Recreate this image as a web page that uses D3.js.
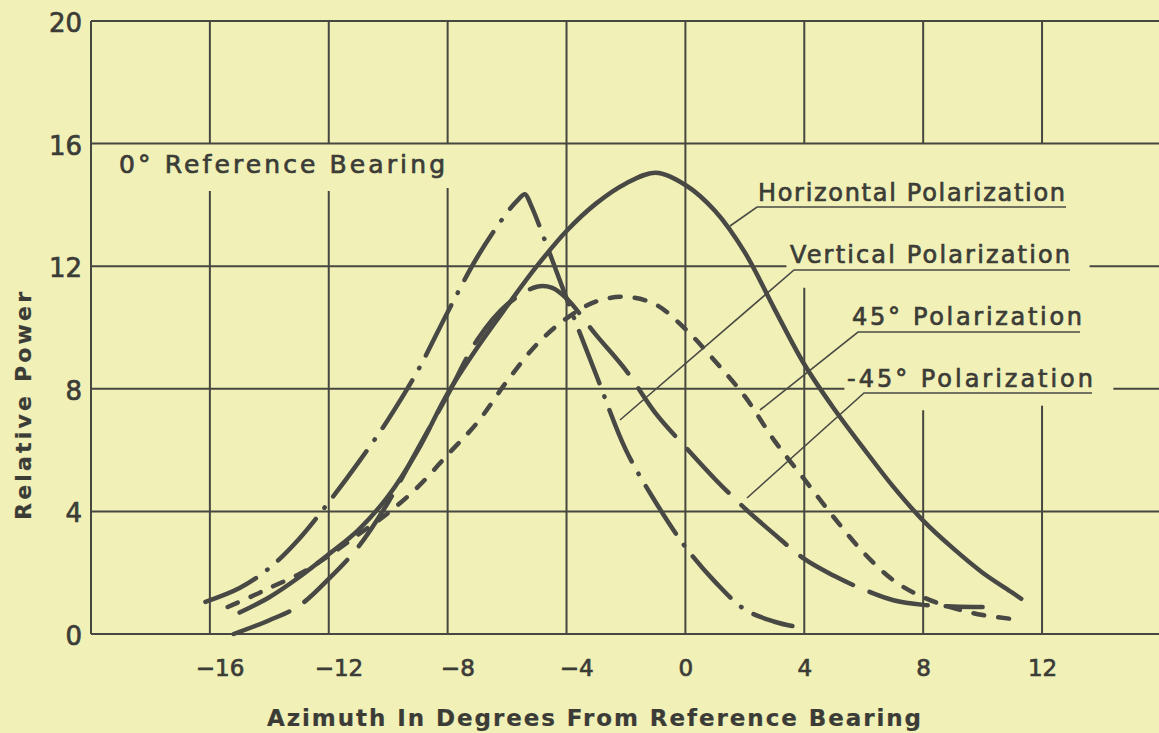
<html>
<head>
<meta charset="utf-8">
<script src="https://cdn.jsdelivr.net/npm/d3@7"></script>
<style>
body { margin: 0; background: #f0f0b7; }
svg text { font-family: "DejaVu Sans", sans-serif; fill: #3c3c37; stroke: #3c3c37; stroke-width: 0.7px; }
.grid line { stroke: #474741; stroke-width: 2px; }
.curve { fill: none; stroke: #484844; stroke-width: 4.5px; stroke-linecap: round; }
.leader { fill: none; stroke: #4a4a45; stroke-width: 1.6px; }
</style>
</head>
<body>
<script>

// tick values
var xTicks = [-16, -12, -8, -4, 0, 4, 8, 12];
var yTicks = [0, 4, 8, 12, 16, 20];

// Horizontal Polarization (solid)
var horizX = [-15.0, -14, -13, -12, -11, -10, -9, -8, -7, -6, -5, -4, -3, -2, -1, 0, 1, 2, 3, 4, 5, 6, 7, 8, 9, 10, 11, 11.3];
var horizY = [0.7, 1.2, 1.85, 2.6, 3.4, 4.5, 6.0, 7.85, 9.35, 10.7, 12.0, 13.15, 14.05, 14.7, 15.05, 14.65, 13.8, 12.45, 10.6, 8.8, 7.35, 6.05, 4.8, 3.7, 2.8, 2.0, 1.35, 1.15];

// Vertical Polarization (dash-dot)
var vertX = [-16.15, -15, -14, -13, -12, -11, -10, -9, -8, -7, -6, -5.6, -5.4, -5.2, -4.5, -4, -3, -2, -1, 0, 1, 2, 3, 3.6];
var vertY = [1.05, 1.5, 2.15, 3.1, 4.3, 5.6, 7.0, 8.6, 10.5, 12.3, 13.75, 14.2, 14.35, 14.0, 12.25, 10.95, 8.45, 6.0, 4.3, 2.84, 1.7, 0.8, 0.4, 0.26];

// 45° Polarization (short dash)
var pos45X = [-15.4, -14.5, -14, -13, -12, -11, -10, -9, -8, -7, -6, -5, -4, -3, -2, -1, 0, 1, 2, 3, 4, 5, 6, 7, 8, 9, 10, 11];
var pos45Y = [0.88, 1.27, 1.5, 1.95, 2.55, 3.25, 3.95, 4.8, 5.85, 6.9, 8.25, 9.45, 10.3, 10.85, 11.0, 10.75, 9.95, 8.9, 7.75, 6.3, 5.05, 3.8, 2.65, 1.75, 1.2, 0.85, 0.62, 0.49];

// -45° Polarization (long dash)
var neg45X = [-15.2, -14, -13, -12, -11, -10, -9, -8, -7, -6, -5, -4.5, -4, -3, -2, -1, 0, 1, 2, 3, 4, 5, 6, 7, 8, 9, 10];
var neg45Y = [0.0, 0.45, 0.92, 1.8, 2.85, 4.3, 6.05, 7.8, 9.6, 10.75, 11.33, 11.3, 10.95, 9.75, 8.6, 7.2, 6.1, 5.05, 4.1, 3.25, 2.45, 1.9, 1.45, 1.1, 0.95, 0.9, 0.88];

var width = 1159, height = 733;

var x = d3.scaleLinear().domain([-20, 16]).range([91, 91 + 36 * 29.72]);
var y = d3.scaleLinear().domain([0, 20]).range([634, 21]);

var svg = d3.select("body").append("svg")
    .attr("width", width)
    .attr("height", height);

// grid lines, with gaps where the labels sit
var vGrid = [
    {v: -20, segs: [[0, 20]]},
    {v: -16, segs: [[16, 20], [0, 14.45]]},
    {v: -12, segs: [[16, 20], [0, 14.45]]},
    {v: -8,  segs: [[16, 20], [0, 14.55]]},
    {v: -4,  segs: [[0, 20]]},
    {v: 0,   segs: [[0, 20]]},
    {v: 4,   segs: [[16, 20], [0, 11.3]]},
    {v: 8,   segs: [[16, 20], [0, 7.3]]},
    {v: 12,  segs: [[16, 20], [0, 7.45]]}
];
var hGrid = [
    {v: 0,  segs: [[-20, 16]]},
    {v: 4,  segs: [[-20, 16]]},
    {v: 8,  segs: [[-20, 5.35], [14.4, 16]]},
    {v: 12, segs: [[-20, 3.4], [13.6, 16]]},
    {v: 16, segs: [[-20, 16]]},
    {v: 20, segs: [[-20, 16]]}
];

var grid = svg.append("g").attr("class", "grid");
vGrid.forEach(function(g) {
    g.segs.forEach(function(s) {
        grid.append("line")
            .attr("x1", x(g.v)).attr("x2", x(g.v))
            .attr("y1", y(s[0])).attr("y2", y(s[1]));
    });
});
hGrid.forEach(function(g) {
    g.segs.forEach(function(s) {
        grid.append("line")
            .attr("x1", x(s[0])).attr("x2", x(s[1]))
            .attr("y1", y(g.v)).attr("y2", y(g.v));
    });
});

// axes (labels only)
var xAxis = svg.append("g")
    .attr("transform", "translate(0," + y(0) + ")")
    .call(d3.axisBottom(x).tickValues(xTicks).tickSize(0).tickPadding(26));
xAxis.select(".domain").remove();
xAxis.selectAll("text")
    .style("font-size", "23px")
    .attr("dx", function(d) { return d < 0 ? "0.42em" : 0; });

var yAxis = svg.append("g")
    .attr("transform", "translate(" + x(-20) + ",0)")
    .call(d3.axisLeft(y).tickValues(yTicks).tickSize(0).tickPadding(9));
yAxis.select(".domain").remove();
yAxis.selectAll("text")
    .style("font-size", "26px")
    .attr("dy", "0.4em");

// curves
var line = d3.line()
    .x(function(d) { return x(d[0]); })
    .y(function(d) { return y(d[1]); })
    .curve(d3.curveCatmullRom.alpha(0.5));

function series(xs, ys) {
    return xs.map(function(v, i) { return [v, ys[i]]; });
}

var curves = [
    {pts: series(horizX, horizY), dash: null},
    {pts: series(vertX, vertY), dash: "56 14 0.5 14"},
    {pts: series(pos45X, pos45Y), dash: "11 14"},
    {pts: series(neg45X, neg45Y), dash: "60 18"}
];

curves.forEach(function(c) {
    svg.append("path")
        .attr("class", "curve")
        .attr("d", line(c.pts))
        .attr("stroke-dasharray", c.dash);
});

// labels with underline and leader line
var labels = [
    {text: "Horizontal Polarization", tx: 758, ty: 201, len: 307, ux1: 757, ux2: 1066, uy: 207, lx: 730, ly: 226},
    {text: "Vertical Polarization", tx: 790, ty: 263, len: 280, ux1: 794, ux2: 1070, uy: 270, lx: 620, ly: 420},
    {text: "45° Polarization", tx: 852, ty: 325, len: 230, ux1: 858, ux2: 1080, uy: 332, lx: 760, ly: 410},
    {text: "-45° Polarization", tx: 847, ty: 387, len: 246, ux1: 864, ux2: 1092, uy: 393, lx: 747, ly: 498}
];

labels.forEach(function(l) {
    svg.append("text")
        .attr("x", l.tx).attr("y", l.ty)
        .attr("textLength", l.len)
        .attr("lengthAdjust", "spacing")
        .style("font-size", "24px")
        .text(l.text);
    svg.append("path")
        .attr("class", "leader")
        .attr("d", "M" + l.lx + "," + l.ly + "L" + l.ux1 + "," + l.uy + "L" + l.ux2 + "," + l.uy);
});

svg.append("text")
    .attr("x", 119).attr("y", 173)
    .attr("textLength", 326)
    .attr("lengthAdjust", "spacing")
    .style("font-size", "25px")
    .text("0° Reference Bearing");

// axis titles
svg.append("text")
    .attr("x", 267).attr("y", 726)
    .attr("textLength", 654)
    .attr("lengthAdjust", "spacing")
    .style("font-size", "23px")
    .style("font-weight", "bold")
    .style("stroke-width", "0.2")
    .text("Azimuth In Degrees From Reference Bearing");

svg.append("text")
    .attr("transform", "translate(31,406) rotate(-90)")
    .attr("text-anchor", "middle")
    .attr("textLength", 228)
    .attr("lengthAdjust", "spacing")
    .style("font-size", "22px")
    .style("font-weight", "bold")
    .style("stroke-width", "0.2")
    .text("Relative Power");

</script>
</body>
</html>
